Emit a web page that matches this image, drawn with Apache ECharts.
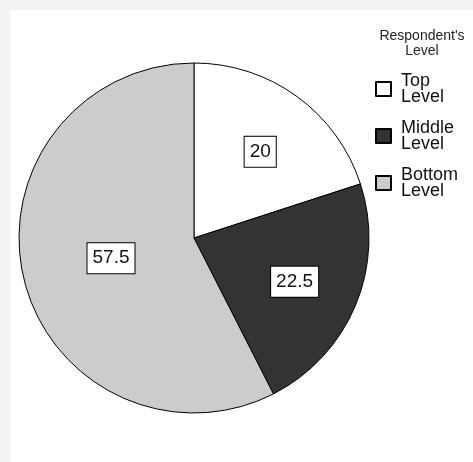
<!DOCTYPE html>
<html>
<head>
<meta charset="utf-8">
<script src="https://cdn.jsdelivr.net/npm/echarts@6/dist/echarts.min.js"></script>
<style>
html,body{margin:0;padding:0;background:#f2f2f2;width:473px;height:462px;overflow:hidden;}
#c{position:absolute;left:10px;top:10px;width:463px;height:452px;background:#fff;}
</style>
</head>
<body>
<div id="c"></div>
<script>
const categories = ['Top Level', 'Middle Level', 'Bottom Level'];
const values = [20, 22.5, 57.5];
const legendTitle = "Respondent's\nLevel";

const colors = ['#ffffff', '#333333', '#cccccc'];
const labelOffsets = [[13, -13], [17, 9], [5, -1]];

const chart = echarts.init(document.getElementById('c'));
chart.setOption({
  animation: false,
  graphic: [{
    type: 'text',
    x: 412, y: 19,
    style: {
      text: legendTitle,
      textAlign: 'center',
      font: '14px "Liberation Sans", Arial, sans-serif',
      lineHeight: 15,
      fill: '#222'
    }
  }],
  legend: {
    orient: 'vertical',
    left: 365,
    top: 58,
    padding: 0,
    icon: 'rect',
    itemWidth: 15,
    itemHeight: 14,
    itemGap: 5,
    data: categories,
    formatter: n => n.replace(' ', '\n'),
    textStyle: {
      fontFamily: '"Liberation Sans", Arial, sans-serif',
      fontSize: 18,
      lineHeight: 16,
      color: '#111',
      padding: [0, 0, 10, 5]
    }
  },
  series: [{
    type: 'pie',
    center: [184, 228],
    radius: 175,
    startAngle: 90,
    clockwise: true,
    avoidLabelOverlap: false,
    itemStyle: { borderColor: '#000', borderWidth: 1 },
    emphasis: { disabled: true },
    label: {
      show: true,
      position: 'inside',
      formatter: p => String(p.value),
      fontFamily: '"Liberation Sans", Arial, sans-serif',
      fontSize: 19,
      color: '#111',
      backgroundColor: '#fff',
      borderColor: '#000',
      borderWidth: 1,
      padding: [6, 5, 5, 5]
    },
    labelLine: { show: false },
    data: categories.map((name, i) => ({
      name: name,
      value: values[i],
      itemStyle: { color: colors[i] },
      label: { offset: labelOffsets[i] }
    }))
  }]
});
</script>
</body>
</html>
